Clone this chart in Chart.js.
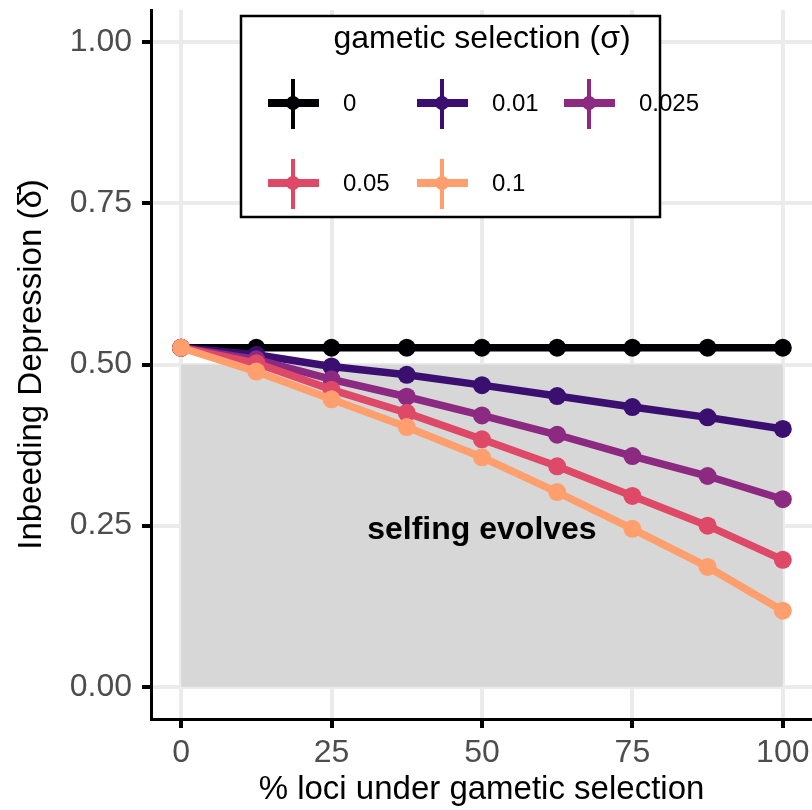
<!DOCTYPE html>
<html><head><meta charset="utf-8">
<script src="https://cdn.jsdelivr.net/npm/chart.js@4"></script>
<style>html,body{margin:0;padding:0;background:#fff}canvas{display:block}</style>
</head><body>
<canvas id="c" width="812" height="810"></canvas>
<script>
// ---- data ----
const xValues   = [0, 12.5, 25, 37.5, 50, 62.5, 75, 87.5, 100];
const sigma0    = [0.526, 0.526, 0.526, 0.526, 0.526, 0.526, 0.526, 0.526, 0.526];
const sigma001  = [0.526, 0.515, 0.497, 0.484, 0.468, 0.451, 0.434, 0.418, 0.400];
const sigma0025 = [0.526, 0.508, 0.477, 0.450, 0.421, 0.391, 0.358, 0.327, 0.291];
const sigma005  = [0.526, 0.502, 0.461, 0.425, 0.384, 0.342, 0.296, 0.250, 0.197];
const sigma01   = [0.526, 0.489, 0.446, 0.403, 0.356, 0.302, 0.245, 0.186, 0.118];
const seriesValues = [sigma0, sigma001, sigma0025, sigma005, sigma01];
const seriesLabels = ['0', '0.01', '0.025', '0.05', '0.1'];
const xTicks = [0, 25, 50, 75, 100];
const yTicks = [0, 0.25, 0.5, 0.75, 1];
const shadeX = [0, 100];
const shadeY = [0, 0.5];
const annotationText = 'selfing evolves';
const annotationPos = [50, 0.25];
const legendTitle = 'gametic selection (\u03C3)';
const xTitle = '% loci under gametic selection';
const yTitle = 'Inbeeding Depression (\u03B4\u0304)';

// ---- styles ----
const seriesColors = ['#000004', '#3B0F70', '#8C2981', '#DE4968', '#FE9F6D'];
const FONT = '"Liberation Sans", Arial, Helvetica, sans-serif';
Chart.defaults.font.family = FONT;

const shadePlugin = {
  id: 'shade',
  beforeDatasetsDraw(chart) {
    const {ctx, scales: {x, y}} = chart;
    const l = x.getPixelForValue(shadeX[0]), r = x.getPixelForValue(shadeX[1]);
    const t = y.getPixelForValue(shadeY[1]), b = y.getPixelForValue(shadeY[0]);
    ctx.save();
    ctx.fillStyle = '#d7d7d7';
    ctx.fillRect(l, t, r - l, b - t);
    ctx.font = 'bold 32px ' + FONT;
    ctx.fillStyle = '#000';
    ctx.textAlign = 'center';
    ctx.textBaseline = 'alphabetic';
    ctx.fillText(annotationText, x.getPixelForValue(annotationPos[0]), y.getPixelForValue(annotationPos[1]) + 13);
    ctx.restore();
  }
};

const legendPlugin = {
  id: 'customLegend',
  afterDraw(chart) {
    const ctx = chart.ctx;
    ctx.save();
    const bx = 241, by = 16, bw = 419, bh = 201;
    ctx.fillStyle = '#fff';
    ctx.fillRect(bx, by, bw, bh);
    ctx.strokeStyle = '#000';
    ctx.lineWidth = 2.5;
    ctx.strokeRect(bx, by, bw, bh);
    ctx.fillStyle = '#000';
    ctx.font = '32px ' + FONT;
    ctx.textAlign = 'center';
    ctx.textBaseline = 'middle';
    ctx.fillText(legendTitle, 482, 39);
    const cols = [293, 442, 589], rows = [103, 183];
    ctx.font = '24px ' + FONT;
    ctx.textAlign = 'left';
    seriesLabels.forEach((lab, i) => {
      const cx = cols[i % 3], cy = rows[Math.floor(i / 3)];
      const col = seriesColors[i];
      ctx.strokeStyle = col;
      ctx.lineWidth = 8;
      ctx.beginPath(); ctx.moveTo(cx - 25, cy); ctx.lineTo(cx + 26, cy); ctx.stroke();
      ctx.lineWidth = 4;
      ctx.beginPath(); ctx.moveTo(cx, cy - 24); ctx.lineTo(cx, cy + 26); ctx.stroke();
      ctx.fillStyle = col;
      ctx.beginPath(); ctx.arc(cx, cy, 7, 0, Math.PI * 2); ctx.fill();
      ctx.fillStyle = '#000';
      ctx.fillText(lab, cx + 50, cy + 1);
    });
    ctx.restore();
  }
};

const gridOpts = {color: '#ebebeb', lineWidth: 4, tickColor: '#000', tickLength: 9, tickWidth: 4};
const borderOpts = {display: true, color: '#000', width: 3};

new Chart(document.getElementById('c'), {
  type: 'line',
  data: {
    datasets: seriesValues.map((vals, i) => ({
      label: seriesLabels[i],
      data: xValues.map((xv, j) => ({x: xv, y: vals[j]})),
      borderColor: seriesColors[i],
      backgroundColor: seriesColors[i],
      pointBackgroundColor: seriesColors[i],
      borderWidth: 7.5,
      pointRadius: 9,
      pointHoverRadius: 9,
      pointBorderWidth: 0,
      tension: 0,
      order: seriesLabels.length - 1 - i
    }))
  },
  options: {
    responsive: false,
    animation: false,
    devicePixelRatio: 1,
    layout: {autoPadding: false, padding: {top: 10, right: 0, left: 0, bottom: 0}},
    plugins: {legend: {display: false}, tooltip: {enabled: false}},
    scales: {
      x: {
        type: 'linear', min: -5, max: 104.85,
        afterBuildTicks: s => { s.ticks = xTicks.map(v => ({value: v})); },
        afterFit: s => { s.height = 91; s.paddingLeft = 0; s.paddingRight = 0; },
        grid: gridOpts, border: borderOpts,
        ticks: {color: '#4d4d4d', font: {size: 32}, padding: 6, maxRotation: 0, autoSkip: false, callback: v => String(v)},
        title: {display: true, text: xTitle, color: '#000', font: {size: 33}, padding: {top: 0, bottom: 0}}
      },
      y: {
        type: 'linear', min: -0.05, max: 1.05,
        afterBuildTicks: s => { s.ticks = yTicks.map(v => ({value: v})); },
        afterFit: s => { s.width = 151; s.paddingTop = 0; s.paddingBottom = 0; },
        grid: gridOpts, border: borderOpts,
        ticks: {color: '#4d4d4d', font: {size: 32}, padding: 10, autoSkip: false, callback: v => Number(v).toFixed(2)},
        title: {display: true, text: yTitle, color: '#000', font: {size: 33}, padding: {top: 12, bottom: 0}}
      }
    }
  },
  plugins: [shadePlugin, legendPlugin]
});
</script>
</body></html>
